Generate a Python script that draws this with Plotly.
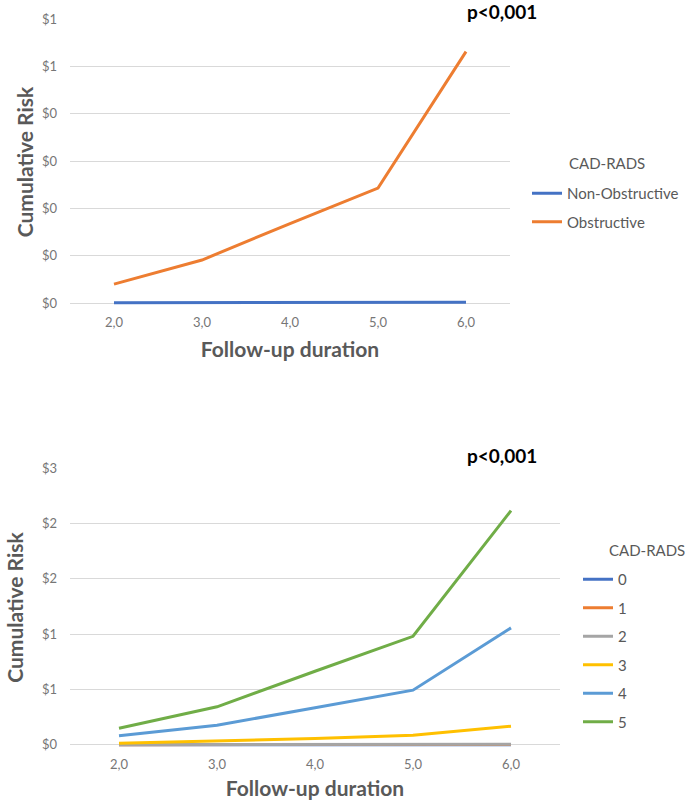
import plotly.graph_objects as go

# ---------------- data ----------------
durations = ["2,0", "3,0", "4,0", "5,0", "6,0"]

# top panel
non_obstructive = [0.001, 0.001, 0.001, 0.002, 0.002]
obstructive = [0.040, 0.091, 0.168, 0.243, 0.531]
top_tickvals = [0, 0.1, 0.2, 0.3, 0.4, 0.5, 0.6]
top_ticktext = ["$0", "$0", "$0", "$0", "$0", "$1", "$1"]

# bottom panel
cad0 = [0.000, 0.000, 0.000, 0.001, 0.001]
cad1 = [0.001, 0.001, 0.002, 0.002, 0.003]
cad2 = [0.002, 0.003, 0.003, 0.004, 0.005]
cad3 = [0.015, 0.033, 0.057, 0.087, 0.168]
cad4 = [0.081, 0.177, 0.334, 0.493, 1.056]
cad5 = [0.150, 0.343, 0.664, 0.980, 2.115]
bottom_tickvals = [0, 0.5, 1.0, 1.5, 2.0, 2.5]
bottom_ticktext = ["$0", "$1", "$1", "$2", "$2", "$3"]

W, H = 685, 803
FONT = "Lato"
GRAY = "#595959"
TICKGRAY = "#767676"

def fx(p):
    return p / W

def fy(p):
    return 1 - p / H

fig = go.Figure()

top_series = [("Non-Obstructive", non_obstructive, "#4472C4"),
              ("Obstructive", obstructive, "#ED7D31")]
for name, vals, col in top_series:
    fig.add_trace(go.Scatter(x=durations, y=vals, name=name, mode="lines",
                             line=dict(color=col, width=3),
                             xaxis="x", yaxis="y", legend="legend",
                             legendgroup=name))

bottom_series = [("0", cad0, "#4472C4"), ("1", cad1, "#ED7D31"),
                 ("2", cad2, "#A5A5A5"), ("3", cad3, "#FFC000"),
                 ("4", cad4, "#5B9BD5"), ("5", cad5, "#70AD47")]
for name, vals, col in bottom_series:
    fig.add_trace(go.Scatter(x=durations, y=vals, name=name, mode="lines",
                             line=dict(color=col, width=3),
                             xaxis="x2", yaxis="y2", legend="legend2",
                             legendgroup="b" + name))

axis_font = dict(family=FONT, size=13, color=TICKGRAY)
title_font = dict(family=FONT, size=21, color=GRAY)
legend_font = dict(family=FONT, size=15, color=GRAY)

common_x = dict(type="category", showgrid=False, showline=False, zeroline=False,
                ticks="", tickfont=axis_font, ticklabelstandoff=8,
                range=[-0.5, 4.5], automargin=False)
common_y = dict(showgrid=True, gridcolor="#D9D9D9", gridwidth=1, zeroline=False,
                showline=False, ticks="", tickfont=axis_font,
                ticklabelstandoff=12, automargin=False)

fig.update_layout(
    width=W, height=H,
    margin=dict(l=0, r=0, t=0, b=0, autoexpand=False),
    paper_bgcolor="white", plot_bgcolor="white",
    font=dict(family=FONT, color=GRAY),
    xaxis=dict(domain=[fx(70), fx(510)], anchor="y",
               title=dict(text="<b>Follow-up duration</b>", font=title_font, standoff=13),
               **common_x),
    yaxis=dict(domain=[fy(305), fy(19)], range=[-0.004, 0.6], tickvals=top_tickvals,
               ticktext=top_ticktext, anchor="x",
               title=dict(text="<b>Cumulative Risk</b>", font=title_font, standoff=2),
               **common_y),
    xaxis2=dict(domain=[fx(70), fx(560)], anchor="y2",
                title=dict(text="<b>Follow-up duration</b>", font=title_font, standoff=10),
                **common_x),
    yaxis2=dict(domain=[fy(747), fy(468)], range=[-0.02, 2.5], tickvals=bottom_tickvals,
                ticktext=bottom_ticktext, anchor="x2",
                title=dict(text="<b>Cumulative Risk</b>", font=title_font, standoff=12),
                **common_y),
    legend=dict(x=fx(527), y=fy(177), xanchor="left", yanchor="top",
                bgcolor="rgba(0,0,0,0)", font=legend_font,
                tracegroupgap=6, itemwidth=30, traceorder="grouped"),
    legend2=dict(x=fx(578), y=fy(563), xanchor="left", yanchor="top",
                 bgcolor="rgba(0,0,0,0)", font=legend_font,
                 tracegroupgap=6, itemwidth=30, traceorder="grouped"),
    annotations=[
        dict(text="<b>p<0,001</b>", x=fx(502), y=fy(11), xref="paper", yref="paper",
             xanchor="center", yanchor="middle",
             showarrow=False, font=dict(family=FONT, size=19, color="black")),
        dict(text="<b>p<0,001</b>", x=fx(502), y=fy(455), xref="paper", yref="paper",
             xanchor="center", yanchor="middle",
             showarrow=False, font=dict(family=FONT, size=19, color="black")),
        dict(text="CAD-RADS", x=fx(567), y=fy(163), xref="paper", yref="paper",
             xanchor="left", yanchor="middle", showarrow=False, font=legend_font),
        dict(text="CAD-RADS", x=fx(607), y=fy(550), xref="paper", yref="paper",
             xanchor="left", yanchor="middle", showarrow=False, font=legend_font),
    ],
)

fig.write_html("out.html",
               config={"displayModeBar": False},
               post_script="document.body.style.margin='0px';"
                           "document.documentElement.style.overflow='hidden';")
